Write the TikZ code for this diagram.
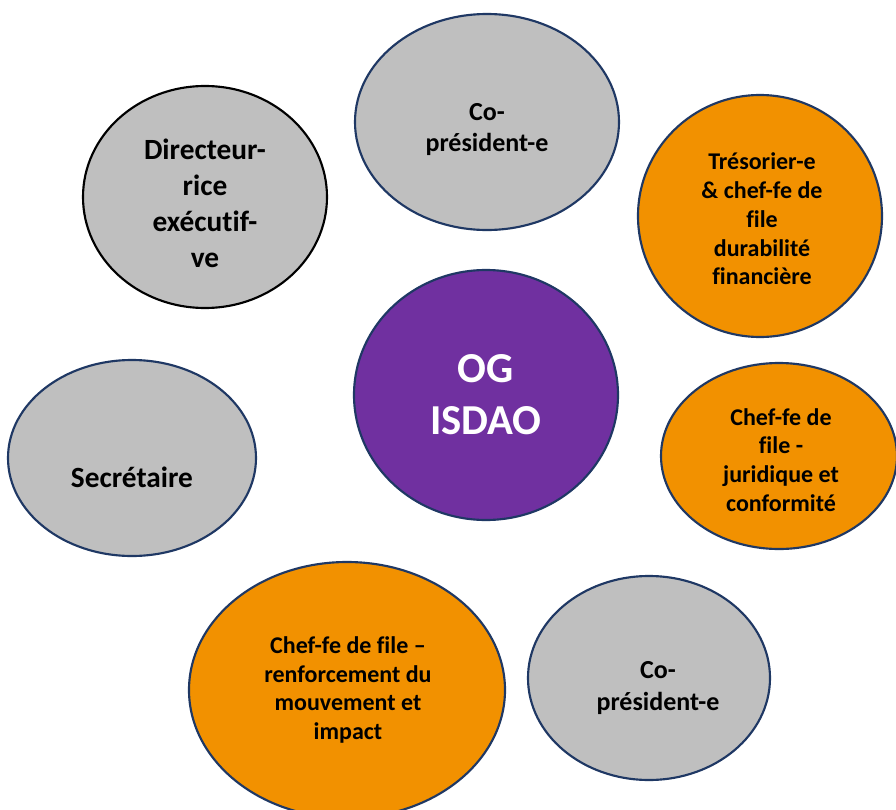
\documentclass[tikz,border=0pt]{standalone}
\usepackage{fontspec}
\setmainfont{Carlito}[Ligatures=NoCommon]
\usetikzlibrary{shapes.geometric}

\definecolor{rolegray}{RGB}{191,191,191}
\definecolor{roleorange}{RGB}{242,145,0}
\definecolor{corepurple}{RGB}{112,48,160}
\definecolor{rim}{RGB}{31,56,100}

\tikzset{
  bubble/.style={ellipse, draw=rim, line width=1.6pt, inner sep=0pt},
  graybubble/.style={bubble, fill=rolegray},
  orangebubble/.style={bubble, fill=roleorange},
  corebubble/.style={bubble, fill=corepurple},
  caption/.style={align=center, inner sep=0pt, text=black,
    font=\bfseries\fontsize{18pt}{21.6pt}\selectfont},
  midcaption/.style={caption, font=\bfseries\fontsize{19.5pt}{23.5pt}\selectfont},
  bigcaption/.style={caption, font=\bfseries\fontsize{22pt}{27pt}\selectfont},
  corecaption/.style={caption, text=white, font=\bfseries\fontsize{32pt}{39pt}\selectfont}
}

\begin{document}
\begin{tikzpicture}[x=0.75pt, y=-0.75pt]
  \useasboundingbox (0,0) rectangle (896,810);
  \clip (0,0) rectangle (896,810);
  \fill[white] (0,0) rectangle (896,810);

  % role bubbles
  \node[graybubble, minimum width=198pt, minimum height=162pt] (copres1) at (487,122) {};
  \node[graybubble, draw=black, minimum width=183pt, minimum height=166.5pt] (dir) at (205,197) {};
  \node[orangebubble, minimum width=183pt, minimum height=181.5pt] (treso) at (760,216) {};
  \node[corebubble, minimum width=198pt, minimum height=187.5pt] (og) at (486,395) {};
  \node[graybubble, minimum width=186pt, minimum height=147pt] (secr) at (132,458) {};
  \node[orangebubble, minimum width=177pt, minimum height=139.5pt] (jurid) at (779,456) {};
  \node[orangebubble, minimum width=237pt, minimum height=192pt] (renf) at (347,690) {};
  \node[graybubble, minimum width=181.5pt, minimum height=153pt] (copres2) at (649,678) {};

  % captions
  \node[midcaption] (tcopres1) at ([yshift=-5.6pt]copres1.center) {Co-\\président-e};
  \node[bigcaption] (tdir) at ([yshift=-4.5pt]dir.center) {Directeur-\\rice\\exécutif-\\ve};
  \node[caption] (ttreso) at ([xshift=1.5pt,yshift=-2.25pt]treso.center) {Trésorier-e\\\& chef-fe de\\file\\durabilité\\financière};
  \node[corecaption] (tog) at (og.center) {OG\\ISDAO};
  \node[bigcaption] (tsecr) at ([yshift=-14.25pt]secr.center) {Secrétaire};
  \node[caption] (tjurid) at ([xshift=1.5pt,yshift=-3pt]jurid.center) {Chef-fe de\\file -\\juridique et\\conformité};
  \node[caption] (trenf) at ([xshift=0.75pt]renf.center) {Chef-fe de file –\\renforcement du\\mouvement et\\impact};
  \node[midcaption] (tcopres2) at ([xshift=6.75pt,yshift=-7.5pt]copres2.center) {Co-\\président-e};
\end{tikzpicture}
\end{document}
